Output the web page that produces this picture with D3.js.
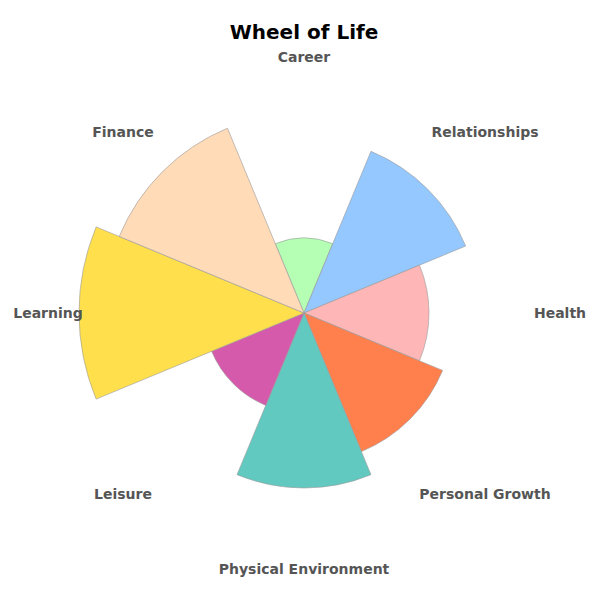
<!DOCTYPE html>
<html>
<head>
<meta charset="utf-8">
<script src="https://cdn.jsdelivr.net/npm/d3@7"></script>
<style>
body{margin:0;background:#fff;}
svg{display:block;}
</style>
</head>
<body>
<svg id="chart" width="600" height="600"></svg>
<script>
const categories = ["Career","Relationships","Health","Personal Growth","Physical Environment","Leisure","Learning","Finance"];
const values = [3,7,5,6,7,4,9,8];
const colors = ["#b5ffb5","#94c8ff","#ffb6b6","#ff7f4d","#62c9c1","#d65aab","#ffe04c","#ffdbb8"];
const maxValue = 10;

const svg = d3.select("#chart");
const cx = 304, cy = 313;
const g = svg.append("g").attr("transform", `translate(${cx},${cy})`);

const r = d3.scaleLinear().domain([0, maxValue]).range([0, 250]);
const step = 2 * Math.PI / categories.length;
const angle = d3.scaleBand().domain(categories).range([-step/2, 2*Math.PI - step/2]);

const arc = d3.arc()
  .innerRadius(0)
  .outerRadius((d,i) => r(values[i]))
  .startAngle(d => angle(d))
  .endAngle(d => angle(d) + angle.bandwidth());

g.selectAll("path.slice")
  .data(categories)
  .join("path")
  .attr("class","slice")
  .attr("d", (d,i) => arc(d,i))
  .attr("fill", (d,i) => colors[i])
  .attr("stroke", "#999")
  .attr("stroke-width", 0.6);

const labelR = 256;
g.selectAll("text.label")
  .data(categories)
  .join("text")
  .attr("class","label")
  .attr("x", d => labelR * Math.sin(angle(d) + angle.bandwidth()/2))
  .attr("y", d => -labelR * Math.cos(angle(d) + angle.bandwidth()/2))
  .attr("text-anchor","middle")
  .attr("dominant-baseline","central")
  .attr("font-family","DejaVu Sans, sans-serif")
  .attr("font-weight","bold")
  .attr("font-size", 14)
  .attr("fill","#555")
  .text(d => d);

svg.append("text")
  .attr("x", cx)
  .attr("y", 32)
  .attr("text-anchor","middle")
  .attr("dominant-baseline","central")
  .attr("font-family","DejaVu Sans, sans-serif")
  .attr("font-weight","bold")
  .attr("font-size", 20)
  .attr("fill","#000")
  .text("Wheel of Life");
</script>
</body>
</html>
